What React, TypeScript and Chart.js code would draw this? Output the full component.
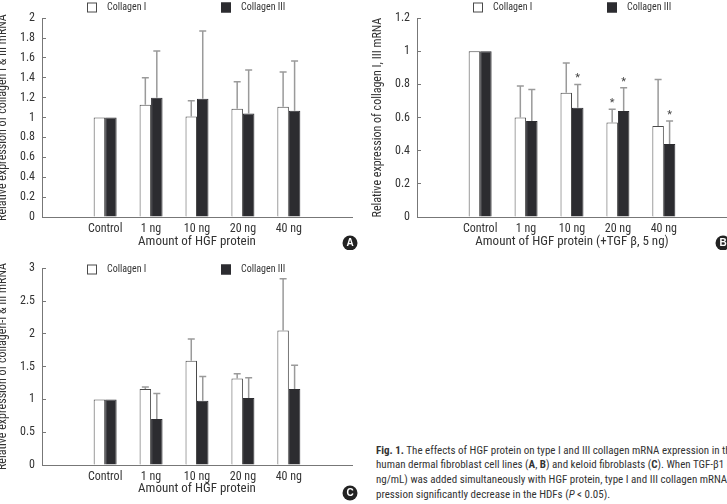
import React, { useEffect, useRef } from 'react';
import { Chart, registerables } from 'chart.js';

Chart.register(...registerables);

// ---------- data ----------
const categories = ['Control', '1 ng', '10 ng', '20 ng', '40 ng'];
const legendLabels = ['Collagen I', 'Collagen III'];

// Panel A (HDF, HGF only)
const aCollagen1 = [1.0, 1.13, 1.01, 1.09, 1.11];
const aCollagen1Upper = [null, 1.4, 1.17, 1.36, 1.46];
const aCollagen3 = [1.0, 1.2, 1.19, 1.04, 1.07];
const aCollagen3Upper = [null, 1.67, 1.87, 1.48, 1.57];
const aYTicks = { max: 2, step: 0.2 };

// Panel B (HDF, HGF + TGF beta)
const bCollagen1 = [1.0, 0.6, 0.75, 0.57, 0.55];
const bCollagen1Upper = [null, 0.79, 0.93, 0.65, 0.83];
const bCollagen1Sig = [false, false, false, true, false];
const bCollagen3 = [1.0, 0.58, 0.66, 0.64, 0.44];
const bCollagen3Upper = [null, 0.77, 0.8, 0.78, 0.58];
const bCollagen3Sig = [false, false, true, true, true];
const bYTicks = { max: 1.2, step: 0.2 };

// Panel C (keloid fibroblasts)
const cCollagen1 = [1.0, 1.16, 1.59, 1.32, 2.05];
const cCollagen1Upper = [null, 1.19, 1.92, 1.39, 2.84];
const cCollagen3 = [1.0, 0.7, 0.98, 1.02, 1.16];
const cCollagen3Upper = [null, 1.09, 1.35, 1.33, 1.52];
const cYTicks = { max: 3, step: 0.5 };

// ---------- styles ----------
const NARROW = "'Liberation Sans Narrow', 'Arial Narrow', 'Roboto Condensed', 'DejaVu Sans Condensed', 'Liberation Sans', sans-serif";
const TEXT = '#333333';
const AXIS = '#777777';
const DARK = '#2c2c30';
const BORDER = '#4a4a4a';
const ERR = '#9a9a9a';

const errorBarPlugin = {
  id: 'errorBars',
  afterDatasetsDraw(chart: any) {
    const { ctx } = chart;
    const yScale = chart.scales.y;
    chart.data.datasets.forEach((ds: any, di: number) => {
      const meta = chart.getDatasetMeta(di);
      meta.data.forEach((bar: any, i: number) => {
        const u = ds.upper ? ds.upper[i] : null;
        if (u == null) return;
        const x = bar.x;
        const yTop = yScale.getPixelForValue(u);
        ctx.save();
        ctx.strokeStyle = ERR;
        ctx.lineWidth = 1.5;
        ctx.beginPath();
        ctx.moveTo(x, bar.y);
        ctx.lineTo(x, yTop);
        ctx.moveTo(x - 3.5, yTop);
        ctx.lineTo(x + 3.5, yTop);
        ctx.stroke();
        if (ds.sig && ds.sig[i]) {
          ctx.fillStyle = '#444';
          ctx.font = `11px ${NARROW}`;
          ctx.textAlign = 'center';
          ctx.textBaseline = 'middle';
          ctx.fillText('*', x, yTop - 6);
        }
        ctx.restore();
      });
    });
  },
};

const decorPlugin = {
  id: 'panelDecor',
  afterDraw(chart: any, _args: any, opts: any) {
    const { ctx } = chart;
    ctx.save();
    const fills = ['#ffffff', DARK];
    opts.legendX.forEach((lx: number, i: number) => {
      const ly = opts.legendY;
      ctx.fillStyle = fills[i];
      ctx.fillRect(lx, ly - 5, 10, 10);
      ctx.strokeStyle = i === 0 ? BORDER : DARK;
      ctx.lineWidth = 1;
      ctx.strokeRect(lx + 0.5, ly - 4.5, 9, 9);
      ctx.fillStyle = TEXT;
      ctx.font = `10px ${NARROW}`;
      ctx.textAlign = 'left';
      ctx.textBaseline = 'middle';
      ctx.fillText(chart.data.datasets[i].label, lx + 20, ly);
    });
    const b = opts.badge;
    ctx.beginPath();
    ctx.fillStyle = '#222';
    ctx.arc(b.x, b.y, 7.5, 0, Math.PI * 2);
    ctx.fill();
    ctx.fillStyle = '#fff';
    ctx.font = `bold 10px 'Liberation Sans', Arial, sans-serif`;
    ctx.textAlign = 'center';
    ctx.textBaseline = 'middle';
    ctx.fillText(b.letter, b.x, b.y + 0.5);
    ctx.restore();
  },
};

type PanelProps = {
  left: number;
  top: number;
  width: number;
  height: number;
  padding: { top: number; right: number; bottom: number; left: number };
  yAxisWidth: number;
  xAxisHeight: number;
  yMax: number;
  yStep: number;
  yTitle: string;
  yTitlePad: number;
  xTitle: string;
  col1: number[];
  col1Upper: (number | null)[];
  col1Sig?: boolean[];
  col3: number[];
  col3Upper: (number | null)[];
  col3Sig?: boolean[];
  legendX: number[];
  legendY: number;
  badge: { x: number; y: number; letter: string };
};

function Panel(p: PanelProps) {
  const ref = useRef<HTMLCanvasElement | null>(null);
  useEffect(() => {
    if (!ref.current) return;
    const chart = new Chart(ref.current, {
      type: 'bar',
      data: {
        datasets: [
          {
            label: legendLabels[0],
            data: p.col1.map((v, i) => ({ x: i, y: v })),
            upper: p.col1Upper,
            sig: p.col1Sig,
            backgroundColor: '#ffffff',
            borderColor: BORDER,
            borderWidth: 1,
          } as any,
          {
            label: legendLabels[1],
            data: p.col3.map((v, i) => ({ x: i, y: v })),
            upper: p.col3Upper,
            sig: p.col3Sig,
            backgroundColor: DARK,
            borderColor: DARK,
            borderWidth: 1,
          } as any,
        ],
      },
      options: {
        responsive: false,
        animation: false,
        events: [],
        datasets: { bar: { categoryPercentage: 0.5, barPercentage: 1 } },
        layout: { padding: p.padding },
        plugins: {
          legend: { display: false },
          tooltip: { enabled: false },
          panelDecor: { legendX: p.legendX, legendY: p.legendY, badge: p.badge },
        } as any,
        scales: {
          x: {
            type: 'linear',
            min: -0.7,
            max: 4.7,
            afterBuildTicks: (s: any) => {
              s.ticks = categories.map((_, i) => ({ value: i }));
            },
            afterFit: (s: any) => {
              s.height = p.xAxisHeight;
            },
            ticks: {
              callback: (v: any) => categories[v as number] ?? '',
              font: { size: 12, family: NARROW },
              color: TEXT,
              padding: 5,
              maxRotation: 0,
              autoSkip: false,
            },
            grid: { display: false, drawTicks: false },
            border: { display: true, color: AXIS, width: 1 },
            title: {
              display: true,
              text: p.xTitle,
              font: { size: 13, family: NARROW },
              color: TEXT,
              padding: 0,
            },
          },
          y: {
            min: 0,
            max: p.yMax,
            ticks: {
              stepSize: p.yStep,
              padding: 11,
              font: { size: 12, family: NARROW },
              color: TEXT,
              callback: (v: any) => String(Number(Number(v).toFixed(2))),
            },
            grid: { drawOnChartArea: false, drawTicks: true, tickLength: -4, color: AXIS },
            border: { display: true, color: AXIS, width: 1 },
            afterFit: (s: any) => {
              s.width = p.yAxisWidth;
            },
            title: {
              display: true,
              text: p.yTitle,
              font: { size: 12, family: NARROW },
              color: TEXT,
              padding: { top: p.yTitlePad, bottom: 0 },
            },
          },
        } as any,
      },
      plugins: [errorBarPlugin, decorPlugin],
    });
    return () => chart.destroy();
  }, []);
  return (
    <canvas
      ref={ref}
      width={p.width}
      height={p.height}
      style={{ position: 'absolute', left: p.left, top: p.top, width: p.width, height: p.height }}
    />
  );
}

const justLine: React.CSSProperties = {
  width: 357,
  textAlign: 'justify',
  textAlignLast: 'justify' as any,
  whiteSpace: 'nowrap',
};

export default function App() {
  return (
    <div
      style={{
        position: 'fixed',
        left: 0,
        top: 0,
        width: 727,
        height: 504,
        overflow: 'hidden',
        background: '#ffffff',
      }}
    >
      <Panel
        left={0}
        top={0}
        width={360}
        height={250}
        padding={{ top: 13, right: 8, bottom: 0, left: 0 }}
        yAxisWidth={42}
        xAxisHeight={33}
        yMax={aYTicks.max}
        yStep={aYTicks.step}
        yTitle="Relative expression of collagen I & III mRNA"
        yTitlePad={-4.5}
        xTitle="Amount of HGF protein"
        col1={aCollagen1}
        col1Upper={aCollagen1Upper}
        col3={aCollagen3}
        col3Upper={aCollagen3Upper}
        legendX={[87, 221]}
        legendY={7.5}
        badge={{ x: 350, y: 243, letter: 'A' }}
      />
      <Panel
        left={360}
        top={0}
        width={367}
        height={250}
        padding={{ top: 13, right: 0, bottom: 0, left: 0 }}
        yAxisWidth={57}
        xAxisHeight={33}
        yMax={bYTicks.max}
        yStep={bYTicks.step}
        yTitle="Relative expression of collagen I, III mRNA"
        yTitlePad={10.5}
        xTitle="Amount of HGF protein (+TGF β, 5 ng)"
        col1={bCollagen1}
        col1Upper={bCollagen1Upper}
        col1Sig={bCollagen1Sig}
        col3={bCollagen3}
        col3Upper={bCollagen3Upper}
        col3Sig={bCollagen3Sig}
        legendX={[113, 247]}
        legendY={7.5}
        badge={{ x: 363, y: 243, letter: 'B' }}
      />
      <Panel
        left={0}
        top={250}
        width={360}
        height={254}
        padding={{ top: 11, right: 8, bottom: 7, left: 0 }}
        yAxisWidth={42}
        xAxisHeight={32}
        yMax={cYTicks.max}
        yStep={cYTicks.step}
        yTitle="Relative expression of collagen-I & III mRNA"
        yTitlePad={-4.5}
        xTitle="Amount of HGF protein"
        col1={cCollagen1}
        col1Upper={cCollagen1Upper}
        col3={cCollagen3}
        col3Upper={cCollagen3Upper}
        legendX={[87, 221]}
        legendY={19.5}
        badge={{ x: 350, y: 243, letter: 'C' }}
      />
      <div
        style={{
          position: 'absolute',
          left: 376,
          top: 443.5,
          fontFamily: NARROW,
          fontSize: 11,
          lineHeight: '14.7px',
          color: TEXT,
          whiteSpace: 'nowrap',
        }}
      >
        <div style={justLine}>
          <b>Fig. 1.</b> The effects of HGF protein on type I and III collagen mRNA expression in the
        </div>
        <div style={justLine}>
          human dermal fibroblast cell lines (<b>A</b>, <b>B</b>) and keloid fibroblasts (<b>C</b>). When TGF-β1 (5
        </div>
        <div style={justLine}>ng/mL) was added simultaneously with HGF protein, type I and III collagen mRNA ex-</div>
        <div>
          pression significantly decrease in the HDFs (<i>P</i> &lt; 0.05).
        </div>
      </div>
    </div>
  );
}
